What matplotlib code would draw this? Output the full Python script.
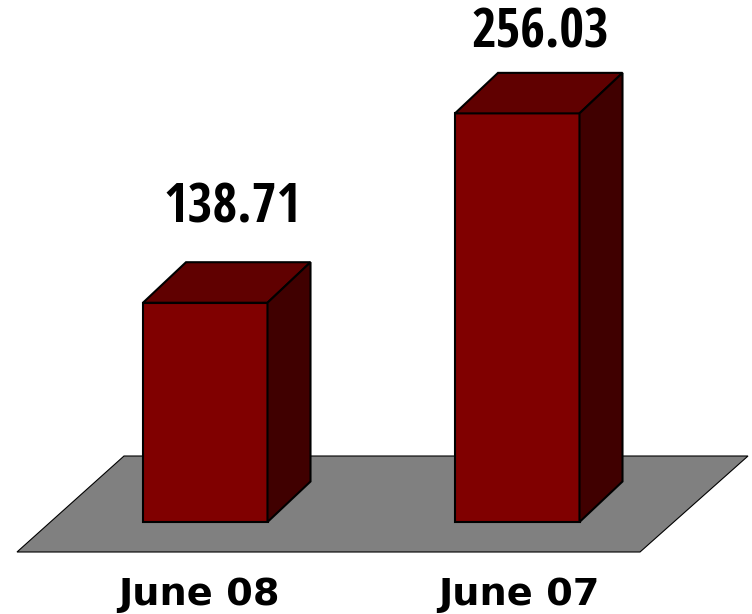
import matplotlib
matplotlib.use('Agg')
import matplotlib.pyplot as plt
from matplotlib.patches import Polygon

# data
categories = ['June 08', 'June 07']
values = [138.71, 256.03]
value_labels = ['138.71', '256.03']

W, H = 752, 614
fig = plt.figure(figsize=(W / 100, H / 100), dpi=100)
ax = fig.add_axes([0, 0, 1, 1])
ax.set_xlim(0, W)
ax.set_ylim(H, 0)
ax.axis('off')

# bar geometry in pixels
left0, step, bar_w = 143, 312, 124.5
base = 522
dx, dy = 43, 40.5
zero_y, scale = 526.6, 1.614

edge = '#000000'
lw = 1.5

# floor
ax.add_patch(Polygon([(17, 552), (640, 552), (748, 456), (124, 456)],
                     closed=True, fc='#808080', ec=edge, lw=0.8))

for i, v in enumerate(values):
    x0 = left0 + i * step
    x1 = x0 + bar_w
    top = zero_y - v * scale
    # front
    ax.add_patch(Polygon([(x0, base), (x1, base), (x1, top), (x0, top)],
                         closed=True, fc='#800000', ec=edge, lw=lw, joinstyle='miter'))
    # top
    ax.add_patch(Polygon([(x0, top), (x1, top), (x1 + dx, top - dy), (x0 + dx, top - dy)],
                         closed=True, fc='#600000', ec=edge, lw=lw, joinstyle='miter'))
    # side
    ax.add_patch(Polygon([(x1, base), (x1 + dx, base - dy), (x1 + dx, top - dy), (x1, top)],
                         closed=True, fc='#400000', ec=edge, lw=lw, joinstyle='miter'))
    # value label sits on a baseline above the bar
    ax.text(x0 + 89.5 + i * -4.5, top - 80 + i * 14, value_labels[i], ha='center', va='baseline',
            family=['Open Sans Condensed', 'Roboto'], weight='bold', fontsize=38.5, color='black')
    ax.text(x0 + 55.5 + i * 8, 605, categories[i], ha='center', va='baseline',
            family='DejaVu Sans', weight='bold', fontsize=27.5, color='black')

fig.savefig('out.png', dpi=100)
